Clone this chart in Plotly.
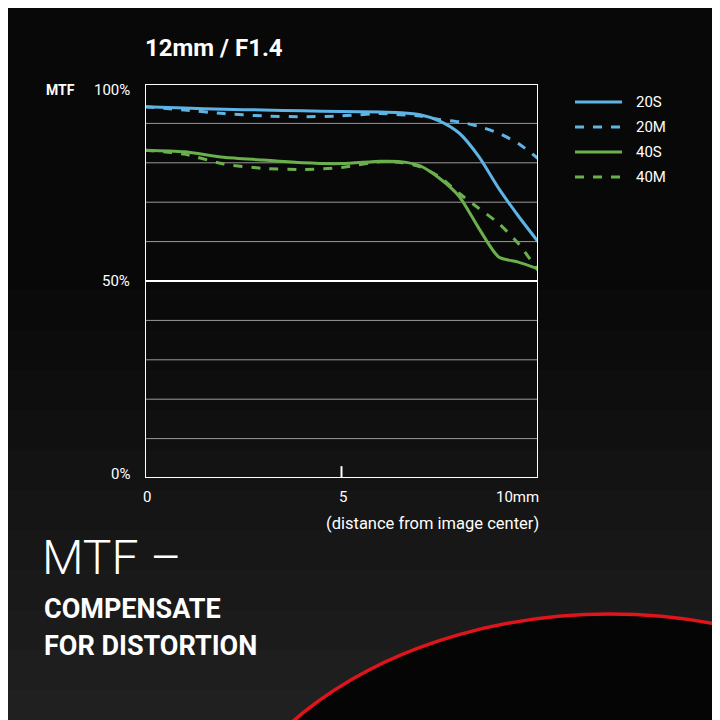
import plotly.graph_objects as go

x = [0, 1, 2, 3, 4, 5, 6, 6.5, 7, 7.5, 8, 8.5, 9, 9.5, 10]
s20 = [94.2, 93.9, 93.6, 93.4, 93.2, 93.0, 92.9, 92.7, 92.2, 90.6, 87.5, 81.5, 73.5, 66.5, 60.0]
m20 = [94.2, 93.4, 92.5, 91.9, 91.7, 91.9, 92.5, 92.2, 91.9, 91.0, 90.4, 89.2, 87.5, 84.9, 81.1]
s40 = [83.2, 82.8, 81.4, 80.7, 80.0, 79.8, 80.4, 80.3, 79.2, 76.0, 71.4, 63.3, 56.1, 54.8, 53.1]
m40 = [83.2, 82.2, 79.7, 78.6, 78.3, 78.8, 80.3, 80.1, 79.0, 76.4, 72.2, 68.4, 64.6, 59.5, 52.7]
series = [("20S", s20, "#5fb4e6", "solid"), ("20M", m20, "#5fb4e6", "dash"),
          ("40S", s40, "#6ab04c", "solid"), ("40M", m40, "#6ab04c", "dash")]
gridvals = [10, 20, 30, 40, 60, 70, 80, 90]

W = 720
OFF = 8
def px(v): return (v - OFF) / W
def py(v): return 1 - (v - OFF) / W

fig = go.Figure()
for name, ys, c, d in series:
    fig.add_trace(go.Scatter(x=x, y=ys, name=name, mode="lines",
                             line=dict(color=c, dash=d, width=3, shape="spline", smoothing=0.7)))

shapes = []
for i in range(12):
    g = int(8 + i * 2.2)
    shapes.append(dict(type="rect", xref="paper", yref="paper", x0=-0.1, x1=1.1,
                       y0=-0.1, y1=py(250 + i * 40), fillcolor=f"rgb({g},{g},{g})",
                       line=dict(width=0), layer="below"))
shapes.append(dict(type="circle", xref="paper", yref="paper", x0=px(200), x1=px(1020),
                   y0=py(1200), y1=py(614), fillcolor="#050505",
                   line=dict(color="#e0141b", width=3.5), layer="below"))
for g in gridvals:
    shapes.append(dict(type="line", xref="x", yref="y", x0=0, x1=10, y0=g, y1=g,
                       line=dict(color="#9a9a9a", width=1), layer="below"))
shapes.append(dict(type="line", xref="x", yref="y", x0=0, x1=10, y0=50, y1=50,
                   line=dict(color="white", width=2), layer="below"))
shapes.append(dict(type="rect", xref="x", yref="y", x0=0, x1=10, y0=0, y1=100,
                   line=dict(color="white", width=2)))
shapes.append(dict(type="line", xref="x", yref="y", x0=5, x1=5, y0=0, y1=3,
                   line=dict(color="white", width=2)))
for i, (name, ys, c, d) in enumerate(series):
    yy = 102 + i * 25
    shapes.append(dict(type="line", xref="paper", yref="paper", x0=px(575), x1=px(622),
                       y0=py(yy), y1=py(yy), line=dict(color=c, dash=d, width=3)))

F = "Roboto"
ann = []
def t(txt, xx, yy, size, anchor="left", weight="normal", color="white", fam=F):
    ann.append(dict(text=txt, x=px(xx), y=py(yy), xref="paper", yref="paper",
                    showarrow=False, xanchor=anchor, yanchor="middle",
                    font=dict(family=fam, size=size, color=color, weight=weight)))
t("12mm / F1.4", 143, 48, 24, weight="bold")
t("MTF", 44, 90, 14, weight="bold")
t("100%", 132, 90, 15, anchor="right")
t("50%", 132, 281, 15, anchor="right")
t("0%", 132, 474, 15, anchor="right")
t("0", 147, 497, 15, anchor="center")
t("5", 343, 497, 15, anchor="center")
t("10mm", 517, 497, 15, anchor="center")
t("(distance from image center)", 541, 523, 16.5, anchor="right")
for i, (name, *_r) in enumerate(series):
    t(name, 634, 102 + i * 25, 15)
t("MTF –", 40, 557, 48, weight=300)
t("COMPENSATE", 42, 609, 27, weight="bold")
t("FOR DISTORTION", 42, 646, 27, weight="bold")

fig.update_layout(width=720, height=720, margin=dict(l=0, r=0, t=0, b=0),
                  paper_bgcolor="#080808", plot_bgcolor="rgba(0,0,0,0)",
                  showlegend=False, shapes=shapes, annotations=ann,
                  xaxis=dict(domain=[px(145), px(538)], range=[0, 10], visible=False),
                  yaxis=dict(domain=[py(478), py(84)], range=[0, 100], visible=False))
fig.write_html("out.html")
